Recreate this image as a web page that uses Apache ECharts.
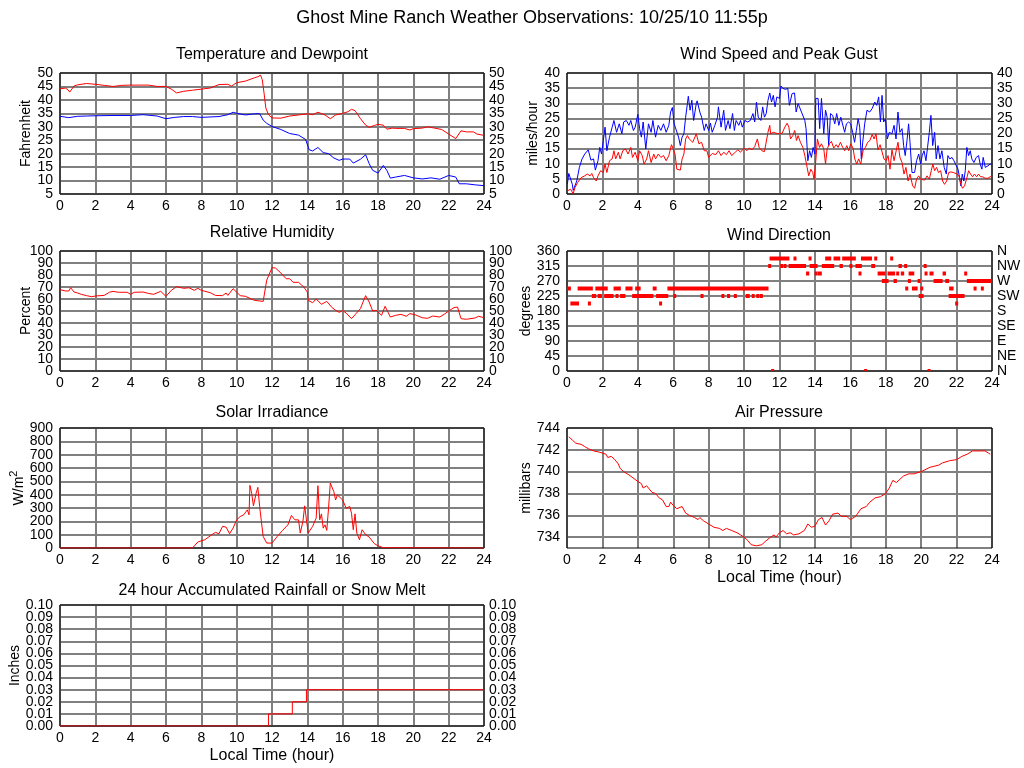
<!DOCTYPE html>
<html>
<head>
<meta charset="utf-8">
<title>Ghost Mine Ranch Weather Observations</title>
<script src="https://cdn.jsdelivr.net/npm/echarts@6/dist/echarts.min.js"></script>
<style>
  html, body { margin: 0; padding: 0; background: #fff; }
  #chart { width: 1024px; height: 768px; }
</style>
</head>
<body>
<div id="chart"></div>
<script>
// hour ticks on every panel
const hourTicks = [0, 2, 4, 6, 8, 10, 12, 14, 16, 18, 20, 22, 24]

// temperature and dewpoint, [hour, F]
const temperature = [[0,44.1],[0.3,44.4],[0.45,43.8],[0.55,42.9],[0.8,45.2],[1,45.6],[1.5,46.1],[2,45.8],[2.5,45.4],[3,45],[3.5,45.4],[4,45.5],[5,45.5],[5.5,45],[6,45],[6.3,44],[6.6,42.6],[7,43.2],[7.5,43.6],[8,44],[8.5,44.4],[9,45.7],[9.5,45.8],[9.7,45.1],[10,46.4],[10.5,47],[11,48.2],[11.2,48.6],[11.35,49.2],[11.45,47.5],[11.55,42.5],[11.65,37],[11.8,34.5],[12,33.3],[12.5,33.2],[13,34],[13.5,34.4],[14,34.8],[14.3,34.5],[14.6,35.4],[15,34.4],[15.3,33],[15.6,34.4],[16,35],[16.3,35.6],[16.5,36.5],[16.7,36],[17,33.1],[17.3,30.6],[17.5,29.8],[17.8,30.5],[18,30.9],[18.3,30.6],[18.5,29.1],[18.8,29.5],[19,29.4],[19.5,29.4],[19.8,28.8],[20,29.3],[20.5,29.5],[20.8,30],[21.2,29.5],[21.6,29],[22,27.3],[22.4,25.6],[22.7,28.5],[23,28.1],[23.4,28.1],[23.6,27.3],[24,26.8]]
const dewpoint = [[0,33.9],[0.5,33.4],[1,33.9],[1.5,34],[2,34.1],[3,34.2],[4,34.2],[4.7,34.5],[5.5,34],[6,33],[6.5,33.5],[7,33.8],[7.5,33.8],[8,33.5],[9,33.8],[9.5,34.5],[9.8,35.4],[10,35],[10.5,34.4],[11,34.8],[11.3,34.9],[11.5,32.5],[11.7,31.3],[12,30.1],[12.5,29],[13,27.5],[13.5,26.9],[13.9,25.3],[14.1,21.5],[14.3,21],[14.6,22.3],[14.9,20.4],[15.2,20],[15.5,18.4],[15.8,17.5],[16,18],[16.4,18],[16.6,16.5],[17,17.9],[17.3,19.6],[17.5,16.3],[17.7,13.8],[18,12.8],[18.3,15.6],[18.5,13.8],[18.7,10.9],[19,11.3],[19.5,11.9],[20,11],[20.5,10.6],[21,11],[21.5,10.5],[22,11.9],[22.4,11.3],[22.6,8.8],[23,8.8],[23.5,8.4],[24,8.1]]

// relative humidity, [hour, %]
const humidity = [[0,67.8],[0.3,66.7],[0.5,66.7],[0.6,69.4],[0.8,65.8],[1,65],[1.2,63.9],[1.5,62.8],[1.8,61.9],[2,62.5],[2.5,63],[2.8,65.6],[3,66.4],[3.3,65.6],[3.8,65.6],[4,63.9],[4.2,65.6],[4.7,65.8],[5,64.7],[5.3,63.9],[5.7,66.4],[6,62.2],[6.3,67.2],[6.6,70.3],[7,68.9],[7.3,69.4],[7.6,67.2],[7.8,68.9],[8,67.2],[8.5,65.3],[8.8,63],[9.2,62.8],[9.4,65],[9.5,63],[9.8,68.6],[9.9,68.6],[10.2,62.8],[10.5,62.2],[11,58.9],[11.5,58],[11.7,75.6],[12,86.1],[12.2,85.8],[12.5,81.7],[12.8,76.9],[13,76.9],[13.2,73.9],[13.5,73.9],[13.8,70],[14,65.8],[14.05,58.9],[14.3,56.9],[14.5,60],[14.8,55.6],[15.1,58],[15.4,52.8],[15.6,50.6],[15.8,48.9],[16,50.3],[16.2,48.3],[16.5,43.6],[16.7,46.9],[17,51.9],[17.3,62.8],[17.5,57.5],[17.7,50],[17.9,50.6],[18.2,46.4],[18.4,53.9],[18.5,55.3],[18.7,45],[19,46.4],[19.3,47.2],[19.6,45.6],[19.8,47.8],[20.1,46.9],[20.5,44.4],[20.8,43.9],[21.1,45.8],[21.5,45],[21.8,47.8],[22,50],[22.3,52.8],[22.5,53.3],[22.7,43.6],[23,43.1],[23.5,44.2],[23.7,45.6],[24,44.4]]

// solar irradiance, [hour, W/m2]
const solar = [[0,0],[7.5,0],[7.8,45],[8.2,62],[8.6,100],[8.8,117],[9,107],[9.2,162],[9.4,157],[9.6,107],[9.8,150],[10,211],[10.2,236],[10.4,249],[10.6,286],[10.7,249],[10.75,470],[10.85,410],[10.95,316],[11.1,410],[11.2,455],[11.3,311],[11.5,87],[11.7,37],[12,37],[12.1,25],[12.3,87],[12.6,132],[12.9,174],[13.1,244],[13.3,211],[13.5,211],[13.6,112],[13.75,199],[13.85,316],[13.95,211],[14.05,112],[14.3,162],[14.5,224],[14.6,467],[14.7,211],[14.8,256],[14.9,149],[15,174],[15.1,132],[15.2,298],[15.3,487],[15.5,423],[15.6,360],[15.7,398],[16,360],[16.2,298],[16.4,311],[16.5,261],[16.6,137],[16.7,256],[16.8,112],[16.95,62],[17.1,137],[17.3,100],[17.5,82],[17.8,32],[18,17],[18.3,2],[18.4,0],[24,0]]

// accumulated rainfall, [hour, inches]
const rainfall = [[0,0],[11.8,0.01],[13.15,0.02],[13.95,0.03],[24,0.03]]

// wind speed and peak gust, [hour, mph]
const gust = [[0.02,3.2],[0.1,6.8],[0.2,6.8],[0.3,3.2],[0.35,1.2],[0.45,1.6],[0.55,4.3],[0.7,8.8],[0.85,11.6],[1,13.2],[1.1,13.8],[1.2,14.6],[1.35,11.2],[1.5,11.6],[1.6,7.9],[1.75,11],[1.85,15.4],[1.95,13.2],[2.05,17.7],[2.15,22.1],[2.25,14.3],[2.4,18.8],[2.55,22.1],[2.65,24.3],[2.8,20.4],[2.95,23.2],[3.1,19.9],[3.2,23.8],[3.35,24.3],[3.5,22.7],[3.6,24.3],[3.75,21],[3.85,22.1],[4,26.3],[4.1,21.6],[4.2,18.8],[4.3,23.8],[4.45,14.9],[4.6,23.2],[4.75,20.4],[4.85,24.3],[5,18.8],[5.15,22.7],[5.3,21],[5.45,23.2],[5.6,20.4],[5.75,22.7],[5.85,27.1],[5.95,28.6],[6.05,23.2],[6.15,23.8],[6.3,18.8],[6.4,16],[6.5,18.8],[6.6,19.9],[6.7,25.4],[6.8,29.9],[6.85,32.3],[6.95,27.7],[7.05,31],[7.15,24.3],[7.3,29.9],[7.35,30.8],[7.5,27.1],[7.6,25.4],[7.75,21],[7.85,23.2],[8,21],[8.1,23.4],[8.2,20.4],[8.35,22.7],[8.5,25.4],[8.55,28.8],[8.7,22.1],[8.85,27.7],[8.95,21],[9.1,24.3],[9.2,21.6],[9.35,26.6],[9.45,21],[9.55,24.3],[9.7,22.7],[9.8,24.3],[9.9,22.1],[10.05,24.3],[10.2,23.8],[10.35,24.3],[10.5,26.6],[10.6,23.8],[10.7,30.4],[10.8,25.4],[10.95,24.3],[11.05,28.8],[11.15,25.4],[11.25,26.6],[11.35,31],[11.45,33.4],[11.55,30.4],[11.65,32.6],[11.75,28.8],[11.85,32.1],[12,31.6],[12.08,35.7],[12.2,34.9],[12.34,34.6],[12.47,34.9],[12.56,29.3],[12.71,33.2],[12.85,33.4],[12.94,27.1],[13.05,29.9],[13.15,29.9],[13.24,27.1],[13.35,27.7],[13.43,24.3],[13.5,21.6],[13.6,11],[13.7,14.3],[13.8,12.1],[13.9,15.4],[14,13.2],[14.05,31.6],[14.18,31.6],[14.27,21.6],[14.37,31.6],[14.5,19.9],[14.6,27.7],[14.69,25.4],[14.78,16],[14.88,26.6],[15,26],[15.12,23.2],[15.23,26.6],[15.35,22.7],[15.46,25.4],[15.57,26],[15.68,20.4],[15.78,23.2],[15.9,23.8],[16.02,23.2],[16.13,20.4],[16.24,17.1],[16.34,21],[16.44,24.9],[16.53,22.1],[16.62,11.6],[16.7,17.1],[16.81,23.2],[16.94,27.7],[17.09,27.1],[17.23,28.2],[17.38,30.4],[17.49,29.3],[17.6,32.1],[17.7,23.8],[17.79,32.6],[17.88,23.8],[17.98,24.9],[18.09,18.2],[18.2,20.4],[18.35,19.9],[18.47,22.7],[18.58,18.2],[18.69,27.1],[18.8,20.4],[18.92,21.6],[19.01,16],[19.1,12.7],[19.2,17.7],[19.29,23.2],[19.37,17.1],[19.48,7.1],[19.63,7.1],[19.74,11],[19.86,13.2],[19.97,9.9],[20.06,12.7],[20.16,14.3],[20.27,11],[20.36,15.4],[20.46,20.4],[20.55,26],[20.65,16],[20.76,20.4],[20.85,11.6],[20.95,16],[21.06,11.6],[21.17,14.3],[21.3,8.8],[21.42,6.6],[21.51,12.7],[21.62,11.6],[21.74,12.1],[21.85,11],[21.96,11.6],[22.08,8.2],[22.17,5.4],[22.24,2.7],[22.32,6.6],[22.41,4.3],[22.49,7.7],[22.58,15.4],[22.68,12.7],[22.77,14.3],[22.86,11.6],[22.98,10.4],[23.11,12.1],[23.24,12.7],[23.33,9.9],[23.43,8.2],[23.5,12.1],[23.62,8.8],[23.77,9.3],[23.89,9.9],[24,9.9]]
const windSpeed = [[0.02,1],[0.2,1.6],[0.3,1],[0.35,0.1],[0.45,2.1],[0.6,3.8],[0.8,5.4],[1,6],[1.15,6.6],[1.3,6],[1.4,6.8],[1.5,5.4],[1.65,4.3],[1.75,6],[1.9,7.7],[2.05,7.1],[2.15,9.9],[2.25,7.1],[2.4,11],[2.55,11.6],[2.65,14.3],[2.75,11.6],[2.9,13.8],[3,11.6],[3.15,14.3],[3.3,14.9],[3.45,13.2],[3.6,15.4],[3.7,12.1],[3.85,13.8],[4,11],[4.1,14.3],[4.25,12.7],[4.35,9.9],[4.5,11.6],[4.6,14.3],[4.75,10.4],[4.9,13.2],[5,11.6],[5.15,13.2],[5.3,12.1],[5.45,12.7],[5.6,11],[5.75,12.7],[5.9,16.3],[6,14.9],[6.1,13.2],[6.2,8.2],[6.3,7.7],[6.4,7.9],[6.5,11.6],[6.6,13.2],[6.7,18.2],[6.8,19.3],[6.9,18.2],[7,18.8],[7.1,17.1],[7.2,17.7],[7.3,19.9],[7.45,16.6],[7.6,17.1],[7.75,14.3],[7.9,14.3],[8,12.1],[8.2,13.4],[8.4,13],[8.55,14.3],[8.7,12.7],[8.85,13.8],[9,13],[9.15,14.3],[9.3,12.7],[9.5,13.8],[9.65,14.6],[9.8,13.8],[10,15.2],[10.15,14.3],[10.3,15.2],[10.45,14.6],[10.6,15.7],[10.75,18.2],[10.85,15.4],[11,14.3],[11.15,14],[11.25,14.3],[11.35,20.4],[11.45,22.7],[11.5,19.9],[11.65,20.4],[11.8,20.1],[12,19.9],[12.15,20.1],[12.3,22.1],[12.43,23.4],[12.53,22.1],[12.62,18.2],[12.75,19.3],[12.86,21],[12.96,17.7],[13.05,19.3],[13.18,17.1],[13.32,15.4],[13.43,12.7],[13.56,8.8],[13.65,6],[13.77,8.2],[13.88,7.1],[13.95,4.9],[14.05,11],[14.14,18.2],[14.26,15.4],[14.37,16.6],[14.5,14.9],[14.6,9.9],[14.69,14.9],[14.82,16.6],[14.93,17.4],[15.06,15.2],[15.2,16.3],[15.31,15.4],[15.44,17.1],[15.57,15.4],[15.68,14.3],[15.8,16],[15.91,14.3],[16.02,16.6],[16.15,15.2],[16.25,11.6],[16.36,9.9],[16.47,11.6],[16.59,9.9],[16.72,14.3],[16.85,15.4],[16.98,17.1],[17.11,17.7],[17.23,19.7],[17.34,18.2],[17.45,19.9],[17.56,14.6],[17.68,16.3],[17.79,16.6],[17.9,11.6],[18.02,11],[18.13,12.7],[18.24,8.2],[18.35,14.6],[18.47,11],[18.58,11.6],[18.69,17.1],[18.8,12.1],[18.92,10.4],[19.03,6.6],[19.14,8.8],[19.26,4.3],[19.37,6.6],[19.52,2.7],[19.63,1.9],[19.74,4.9],[19.86,6],[19.97,4.9],[20.08,5.4],[20.2,4.6],[20.33,6],[20.46,4.9],[20.57,7.7],[20.66,9.9],[20.76,7.7],[20.87,8.8],[20.98,7.1],[21.1,7.7],[21.21,4.3],[21.32,3.2],[21.44,4.3],[21.55,7.1],[21.68,7.3],[21.81,7.1],[21.92,6.6],[22.04,6.6],[22.15,5.7],[22.24,3.2],[22.34,1.9],[22.45,2.7],[22.56,4.9],[22.68,7.7],[22.79,6.6],[22.9,5.7],[23.01,6.6],[23.13,5.7],[23.24,6.6],[23.35,5.7],[23.47,5.7],[23.62,5.2],[23.77,5.2],[23.89,5.7],[24,5.7]]

// wind direction runs, [start hour, end hour, degrees]
const directionRuns = [
  [0,0.22,247.5],[0.6,1.46,247.5],[1.6,2.3,247.5],[2.63,3.04,247.5],[3.3,3.7,247.5],[3.85,4.16,247.5],[4.84,5.06,247.5],[5.67,11.38,247.5],
  [1.4,1.65,225],[1.73,1.97,225],[2.1,2.63,225],[2.74,2.85,225],[3,3.3,225],[3.68,4.88,225],[5.03,5.72,225],[6,6.12,225],[7.54,7.69,225],[8.72,8.85,225],[9.04,9.19,225],[9.42,9.57,225],[10.09,10.32,225],[10.43,10.54,225],[10.69,10.79,225],[10.88,11.06,225],
  [0.19,0.68,202.5],[1.18,1.28,202.5],[5.2,5.29,202.5],
  [11.44,12.56,337.5],[12.79,12.9,337.5],[13.64,13.73,337.5],[14.58,14.92,337.5],[15.05,15.43,337.5],[15.54,16.31,337.5],[16.6,17.22,337.5],[17.35,17.5,337.5],[18.25,18.4,337.5],
  [11.36,11.53,315],[12.04,12.13,315],[12.23,12.32,315],[12.51,13.5,315],[13.7,14.15,315],[14.39,15.09,315],[15.39,15.58,315],[15.95,16.09,315],[16.29,16.65,315],[17.18,17.4,315],[18.72,18.91,315],[19.04,19.16,315],[20.14,20.25,315],
  [13.5,13.68,292.5],[13.98,14.09,292.5],[14.15,14.39,292.5],[16.46,16.6,292.5],[17.54,17.99,292.5],[18.1,18.53,292.5],[18.59,18.74,292.5],[18.85,19.04,292.5],[19.29,19.61,292.5],[20.19,20.32,292.5],[20.47,20.7,292.5],[21.21,21.4,292.5],[22.43,22.58,292.5],
  [17.78,18.16,270],[18.44,18.63,270],[19.25,19.38,270],[19.8,19.91,270],[20.7,21.21,270],[21.36,21.58,270],[22.58,24,270],
  [19.1,19.23,247.5],[19.48,19.8,247.5],[19.95,20.1,247.5],[21.58,21.83,247.5],[22.96,23.05,247.5],[23.37,23.47,247.5],
  [19.86,20.14,225],[21.55,22.45,225],
  [21.92,22.06,202.5],
  [11.53,11.62,0],[16.78,16.86,0],[20.36,20.47,0]
]

// air pressure, [hour, millibars]
const pressure = [[0.1,743.2],[0.3,742.9],[0.5,742.6],[0.8,742.5],[1,742.3],[1.2,742.1],[1.5,741.9],[1.8,741.8],[2,741.7],[2.2,741.6],[2.3,741.3],[2.5,741.4],[2.7,741.1],[2.9,740.7],[3,740.3],[3.2,740],[3.5,739.7],[3.6,739.8],[4,739.1],[4.2,738.9],[4.3,738.5],[4.5,738.7],[4.8,738.1],[5,738],[5.2,737.6],[5.4,737.4],[5.6,736.8],[5.75,736.8],[5.85,737.2],[6,736.9],[6.2,736.6],[6.5,736.8],[6.7,736.2],[6.9,736],[7.2,735.8],[7.4,735.6],[7.5,735.8],[7.7,735.5],[8,735.2],[8.3,734.9],[8.6,734.8],[8.8,734.6],[9,734.8],[9.3,734.6],[9.6,734.4],[9.8,734.2],[10,734],[10.2,733.7],[10.4,733.3],[10.7,733.2],[11,733.3],[11.2,733.6],[11.5,734],[11.7,734.2],[11.8,734],[12,734.4],[12.2,734.6],[12.4,734.3],[12.6,734.4],[12.8,734.2],[13.1,734.3],[13.4,734.6],[13.6,735.2],[13.8,734.9],[14,735],[14.2,735.6],[14.4,735.8],[14.6,735.1],[14.8,735.5],[15,736.1],[15.3,736.2],[15.5,735.9],[15.8,735.9],[16,735.6],[16.3,735.9],[16.6,736.6],[16.9,736.8],[17.1,737.2],[17.4,737.6],[17.7,737.7],[18,738],[18.2,738.5],[18.4,739.2],[18.6,739],[18.8,739.3],[19,739.6],[19.3,739.8],[19.6,739.8],[20,740],[20.5,740.4],[21,740.6],[21.2,740.8],[21.6,741],[22,741.1],[22.3,741.4],[22.6,741.6],[22.9,741.9],[23.2,741.9],[23.6,741.9],[23.8,741.7],[23.9,741.6]]

const compass = { 0: 'N', 45: 'NE', 90: 'E', 135: 'SE', 180: 'S', 225: 'SW', 270: 'W', 315: 'NW', 360: 'N' }

const FONT = 'Liberation Sans, Arial, sans-serif'
const GRIDLINE = '#808080'
const RED = '#ff0000'
const BLUE = '#0000ff'

const chart = echarts.init(document.getElementById('chart'))

// panel frames, left and right columns
const grids = [
  { left: 60, top: 73, width: 424, height: 121 },    // temperature
  { left: 567, top: 73, width: 425, height: 121 },   // wind speed
  { left: 60, top: 251, width: 424, height: 120 },   // humidity
  { left: 567, top: 251, width: 425, height: 120 },  // wind direction
  { left: 60, top: 428, width: 424, height: 120 },   // solar
  { left: 567, top: 428, width: 425, height: 120 },  // pressure
  { left: 60, top: 605, width: 424, height: 121 }    // rain
].map(g => Object.assign(g, {
  show: true,
  z: 1,
  backgroundColor: 'rgba(0,0,0,0)',
  borderColor: '#000',
  borderWidth: 1
}))

const xAxis = grids.map((g, i) => ({
  type: 'value',
  gridIndex: i,
  min: hourTicks[0],
  max: hourTicks[hourTicks.length - 1],
  interval: hourTicks[1] - hourTicks[0],
  axisLine: { show: false },
  axisTick: { show: false },
  splitLine: { lineStyle: { color: GRIDLINE, width: 2 } },
  axisLabel: { color: '#000', fontSize: 14, fontFamily: FONT, margin: 5, showMinLabel: true, showMaxLabel: true },
  name: (i === 5 || i === 6) ? 'Local Time (hour)' : '',
  nameLocation: 'middle',
  nameGap: 22,
  nameTextStyle: { color: '#000', fontSize: 16, fontFamily: FONT }
}))

function yLabel(extra) {
  return Object.assign({
    color: '#000', fontSize: 14, fontFamily: FONT, margin: 7
  }, extra || {})
}

// tightly packed panels: the inner labels come from the main axis (ends switched off
// so nothing gets dropped), the end labels from a companion axis further down
const endAxes = []

function addEnds(grid, position, min, max, formatter, margin) {
  endAxes.push({
    type: 'value',
    gridIndex: grid,
    position: position,
    min: min,
    max: max,
    axisLine: { show: false },
    axisTick: { show: false },
    splitLine: { show: false },
    axisLabel: yLabel({ margin: margin, formatter: formatter, customValues: [min, max] })
  })
}

function leftY(grid, min, max, interval, name, gap, extra, formatter) {
  addEnds(grid, 'left', min, max, formatter, 7)
  return Object.assign({
    type: 'value',
    gridIndex: grid,
    position: 'left',
    min: min,
    max: max,
    interval: interval,
    axisLine: { show: false },
    axisTick: { show: false },
    splitLine: { lineStyle: { color: GRIDLINE, width: 2 } },
    axisLabel: yLabel({ formatter: formatter, showMinLabel: false, showMaxLabel: false }),
    name: name,
    nameLocation: 'middle',
    nameGap: gap,
    nameTextStyle: { color: '#000', fontSize: 14, fontFamily: FONT }
  }, extra || {})
}

function rightY(grid, min, max, interval, formatter) {
  addEnds(grid, 'right', min, max, formatter, 5)
  return {
    type: 'value',
    gridIndex: grid,
    position: 'right',
    min: min,
    max: max,
    interval: interval,
    axisLine: { show: false },
    axisTick: { show: false },
    splitLine: { show: false },
    axisLabel: yLabel({ margin: 5, formatter: formatter, showMinLabel: false, showMaxLabel: false })
  }
}

const rainFmt = v => v.toFixed(2)

const yAxis = [
  leftY(0, 5, 50, 5, 'Fahrenheit', 22),               // 0
  rightY(0, 5, 50, 5),                                // 1
  leftY(1, 0, 40, 5, 'miles/hour', 23),               // 2
  rightY(1, 0, 40, 5),                                // 3
  leftY(2, 0, 100, 10, 'Percent', 22),                // 4
  rightY(2, 0, 100, 10),                              // 5
  leftY(3, 0, 360, 45, 'degrees', 34),                // 6
  rightY(3, 0, 360, 45, v => compass[v]),             // 7
  leftY(4, 0, 900, 100, '{a|W/m}{b|2}', 31, {         // 8
    nameTextStyle: {
      color: '#000', fontFamily: FONT,
      rich: {
        a: { fontSize: 14, fontFamily: FONT, color: '#000', lineHeight: 20 },
        b: { fontSize: 11, fontFamily: FONT, color: '#000', lineHeight: 12, verticalAlign: 'top' }
      }
    }
  }),
  {                                                   // 9 pressure, labels on even values
    type: 'value',
    gridIndex: 5,
    position: 'left',
    min: 733,
    max: 744,
    interval: 1,
    axisLine: { show: false },
    axisTick: { show: false },
    splitLine: { lineStyle: { color: ['rgba(0,0,0,0)', GRIDLINE], width: 2 } },
    axisLabel: yLabel({ showMinLabel: true, showMaxLabel: true,
      formatter: v => (v % 2 === 0 ? String(v) : '') }),
    name: 'millibars',
    nameLocation: 'middle',
    nameGap: 30,
    nameTextStyle: { color: '#000', fontSize: 14, fontFamily: FONT }
  },
  leftY(6, 0, 0.1, 0.01, 'Inches', 34, null, rainFmt), // 10
  rightY(6, 0, 0.1, 0.01, rainFmt)                    // 11
].concat(endAxes)

function line(data, color, xi, yi, extra) {
  return Object.assign({
    type: 'line',
    data: data,
    xAxisIndex: xi,
    yAxisIndex: yi,
    showSymbol: false,
    symbol: 'none',
    animation: false,
    lineStyle: { color: color, width: 1 },
    itemStyle: { color: color },
    z: 2
  }, extra || {})
}

const series = [
  line(temperature, RED, 0, 0),
  line(dewpoint, BLUE, 0, 0),
  line(gust, BLUE, 1, 2),
  line(windSpeed, RED, 1, 2),
  line(humidity, RED, 2, 4),
  {
    type: 'custom',
    xAxisIndex: 3,
    yAxisIndex: 6,
    data: directionRuns,
    encode: { x: [0, 1], y: 2 },
    clip: true,
    animation: false,
    renderItem: function (params, api) {
      const a = api.coord([api.value(0), api.value(2)])
      const b = api.coord([api.value(1), api.value(2)])
      return {
        type: 'rect',
        shape: { x: a[0], y: a[1] - 2, width: Math.max(b[0] - a[0], 3), height: 4 },
        style: { fill: RED }
      }
    }
  },
  line(solar, RED, 4, 8),
  line(pressure, RED, 5, 9),
  line(rainfall, RED, 6, 10, { step: 'end' })
]

const subTitle = (text, x, y) => ({
  text: text,
  left: x,
  top: y,
  textAlign: 'center',
  padding: 0,
  textStyle: { color: '#000', fontSize: 16, fontWeight: 'normal', fontFamily: FONT }
})

chart.setOption({
  backgroundColor: '#fff',
  animation: false,
  title: [
    {
      text: 'Ghost Mine Ranch Weather Observations: 10/25/10 11:55p',
      left: 532,
      top: 9,
      textAlign: 'center',
      padding: 0,
      textStyle: { color: '#000', fontSize: 18, fontWeight: 'normal', fontFamily: FONT }
    },
    subTitle('Temperature and Dewpoint', 272, 47),
    subTitle('Wind Speed and Peak Gust', 779, 47),
    subTitle('Relative Humidity', 272, 225),
    subTitle('Wind Direction', 779, 228),
    subTitle('Solar Irradiance', 272, 405),
    subTitle('Air Pressure', 779, 405),
    subTitle('24 hour Accumulated Rainfall or Snow Melt', 272, 583)
  ],
  grid: grids,
  xAxis: xAxis,
  yAxis: yAxis,
  series: series
})
</script>
</body>
</html>
